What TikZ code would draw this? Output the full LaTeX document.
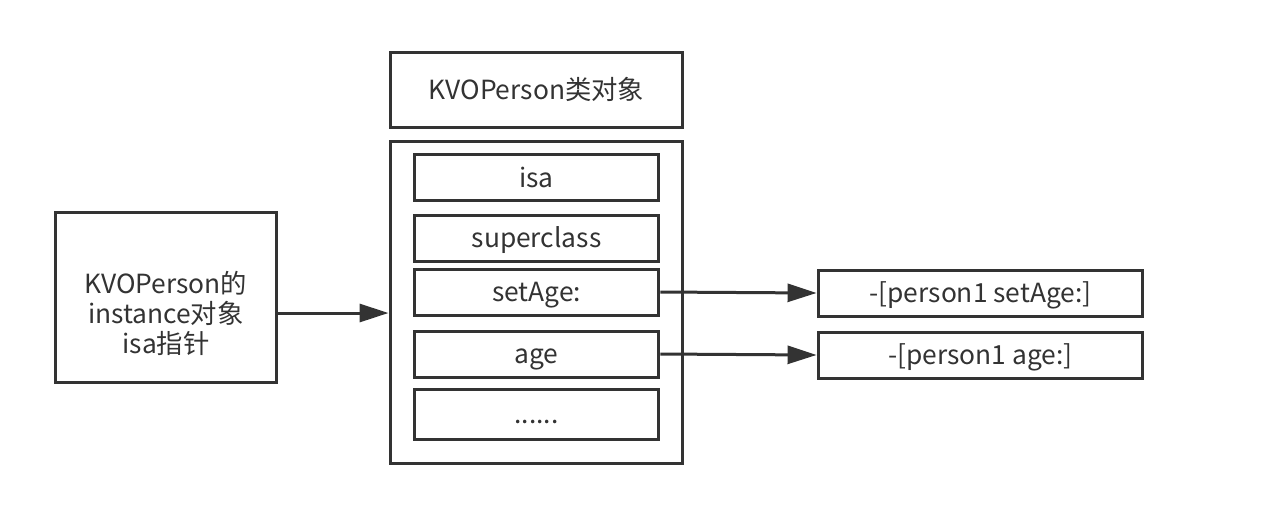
\documentclass[tikz,border=0pt]{standalone}
\usepackage{fontspec}
\setmainfont{Noto Sans CJK SC}
\usepackage{tikz}
\usetikzlibrary{arrows.meta, positioning}
\definecolor{linegray}{HTML}{333333}

\begin{document}
\begin{tikzpicture}[
  x=0.02cm, y=-0.02cm,
  font=\fontsize{15}{17}\selectfont,
  box/.style={rectangle, draw=linegray, line width=0.06cm, text=linegray, align=center, inner sep=0pt},
  oneline/.style={text height=0.44cm, text depth=0.06cm},
  slot/.style={box, oneline, minimum width=4.9cm, minimum height=0.92cm},
  method/.style={box, oneline, minimum width=6.5cm, minimum height=0.92cm},
  arrow/.style={draw=linegray, line width=0.06cm, -{Triangle[length=0.58cm, width=0.36cm]}}
]
\useasboundingbox (0,0) rectangle (1266,512);

\node[box, oneline, minimum width=5.86cm, minimum height=1.5cm] (title) at (536.5,89.5) {KVOPerson类对象};
\node[box, minimum width=5.86cm, minimum height=6.46cm] (cls) at (536.5,302.5) {};

\node[slot] (isa) at (536.5,177.5) {isa};
\node[slot] (super) at (536.5,238) {superclass};
\node[slot] (setage) at (536.5,292) {setAge:};
\node[slot] (age) at (536.5,354) {age};
\node[slot, minimum height=1cm] (more) at (536.5,414) {......};

\node[box, text height=2.3cm, text depth=0.08cm, minimum width=4.44cm, minimum height=3.42cm] (inst) at (166,297.5) {KVOPerson的\\instance对象\\isa指针};

\node[method] (impset) at (980.5,293) {-[person1 setAge:]};
\node[method] (impage) at (980.5,355) {-[person1 age:]};

\draw[arrow] (inst.east |- 0,313) -- (cls.west |- 0,313);
\draw[arrow] (setage.east) -- (impset.west);
\draw[arrow] (age.east) -- (impage.west);
\end{tikzpicture}
\end{document}
